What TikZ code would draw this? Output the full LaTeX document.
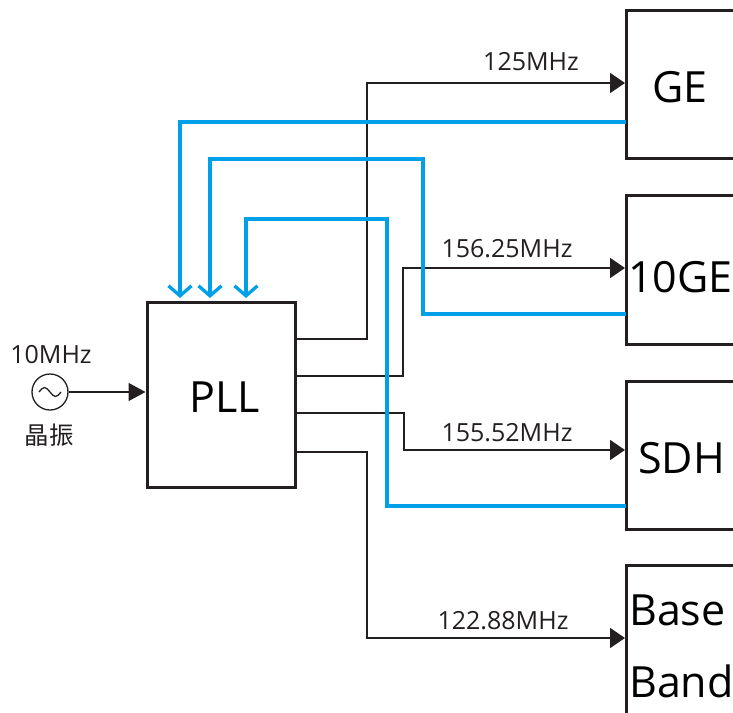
\documentclass[tikz,border=0pt]{standalone}
\usepackage{fontspec}
\setmainfont{Open Sans}
\newfontfamily\cjk{Noto Sans CJK SC}
\usetikzlibrary{arrows.meta}
\definecolor{ink}{HTML}{231F20}
\definecolor{sky}{HTML}{00A0E9}
\begin{document}
\begin{tikzpicture}[x=1pt,y=-1pt,
  box/.style={draw=ink, line width=3pt, rectangle, inner sep=0pt, outer sep=0pt},
  clk/.style={draw=ink, line width=1.8pt, -{Triangle[length=15pt,width=20pt]}, shorten >=1pt},
  fb/.style={draw=sky, line width=3.3pt, -{Straight Barb[length=10pt,width=23pt]}, shorten >=4pt},
  big/.style={font=\fontsize{43}{50}\selectfont, text=black, inner sep=0pt, anchor=base west},
  freq/.style={font=\fontsize{25}{29}\selectfont, text=ink, inner sep=0pt, anchor=base}]
\useasboundingbox (0,0) rectangle (733,712);
\clip (0,0) rectangle (733,712);
% boxes
\node[box, minimum width=148pt, minimum height=185pt] (pll) at (221,394.5) {};
\node[box, minimum width=154pt, minimum height=148pt] (ge) at (703,84) {};
\node[box, minimum width=154pt, minimum height=149pt] (tenge) at (703,269.5) {};
\node[box, minimum width=154pt, minimum height=148pt] (sdh) at (703,455) {};
\node[box, minimum width=154pt, minimum height=195pt] (bb) at (703,662.5) {};
% box texts
\node[big, anchor=base] (pllt) at (225,412) {PLL};
\node[big] (get) at (652,102) {GE};
\node[big] (tenget) at (628,292) {10GE};
\node[big] (sdht) at (638,473) {SDH};
\node[big] (bbt1) at (629,625) {Base};
\node[big] (bbt2) at (629,697) {Band};
% oscillator
\node[circle, draw=ink, line width=1.3pt, minimum size=36pt, inner sep=0pt] (osc) at (50,392) {};
\draw[ink, line width=1.3pt] ([xshift=-11pt]osc.center) sin ++(5.5,-4.5) cos ++(5.5,4.5) sin ++(5.5,4.5) cos ++(5.5,-4.5);
\node[freq] (f10) at (51,363) {10MHz};
\node[freq, font=\cjk\fontsize{24.5}{28}\selectfont] (xtal) at (49,444) {晶振};
\draw[draw=ink, line width=1.3pt, -{Triangle[length=17pt,width=18pt]}, shorten >=1.5pt] (osc.east) -- (osc.east -| pll.west);
% clock outputs
\draw[clk] ([yshift=-37pt]pll.north east) -- ++(72,0) |- ([yshift=1pt]ge.west);
\draw[clk] ([yshift=-74pt]pll.north east) -- ++(108,0) |- ([yshift=1.5pt]tenge.west);
\draw[clk] ([yshift=-111pt]pll.north east) -- ++(109,0) |- ([yshift=5pt]sdh.west);
\draw[clk] ([yshift=-150pt]pll.north east) -- ++(72,0) |- ([yshift=24.5pt]bb.west);
\node[freq] (f1) at (531,70) {125MHz};
\node[freq] (f2) at (507,257) {156.25MHz};
\node[freq] (f3) at (507,441) {155.52MHz};
\node[freq] (f4) at (503,629) {122.88MHz};
% feedback lines
\draw[fb] ([yshift=-112pt]ge.north west) -| ([xshift=33pt]pll.north west);
\draw[fb] ([yshift=-119pt]tenge.north west) -- ++(-203,0) -- ++(0,-155) -| ([xshift=63pt]pll.north west);
\draw[fb] ([yshift=-125pt]sdh.north west) -- ++(-239,0) -- ++(0,-287) -| ([xshift=99pt]pll.north west);
\end{tikzpicture}
\end{document}
